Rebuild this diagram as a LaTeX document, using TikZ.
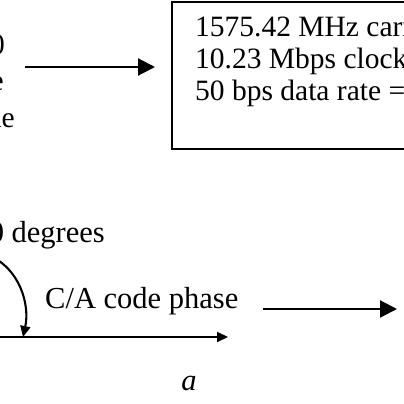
\documentclass[tikz,border=0pt]{standalone}
\usepackage{fontspec}
\setmainfont{Liberation Serif}
\usetikzlibrary{arrows.meta}
\begin{document}
\begin{tikzpicture}[x=1pt,y=-1pt,
  txt/.style={font=\fontsize{29.5}{32}\selectfont, inner sep=0pt},
  txtb/.style={font=\fontsize{30.5}{33}\selectfont, inner sep=0pt},
  bigarrow/.style={line width=2.1pt,-{Triangle[length=17pt,width=17pt]}},
  smallarrow/.style={line width=2.1pt,-{Triangle[length=11pt,width=10pt]}},
  boxstyle/.style={draw, line width=2.2pt, minimum width=300pt, minimum height=147pt, inner sep=0pt}]
\useasboundingbox (0,0) rectangle (404,404);
\clip (0,0) rectangle (404,404);
% left partial texts
\node[txt,anchor=base east] (lt1) at (5,55) {= 0};
\node[txt,anchor=base east] (lt2) at (4,90) {code};
\node[txt,anchor=base east] (lt3) at (15,127) {angle};
% box
\node[boxstyle,anchor=north west] (box) at (171,1) {};
\node[txt,anchor=base west] (b1) at (195,37) {1575.42 MHz carrier};
\node[txt,anchor=base west] (b2) at (195,68) {10.23 Mbps clock};
\node[txt,anchor=base west] (b3) at (195,100) {50 bps data rate =};
% top arrow
\coordinate (t1) at (25,67);
\coordinate (t2) at (155,67);
\draw[bigarrow] (t1) -- (t2);
% bottom part
\node[txtb,anchor=base east] (deg) at (105,242) {90 degrees};
\node[txtb,anchor=base west] (cap) at (45,308) {C/A code phase};
\coordinate (ax0) at (-10,337);
\coordinate (ax1) at (228,337);
\draw[smallarrow] (ax0) -- (ax1);
\coordinate (c0) at (-12,255);
\coordinate (c1) at (23,337);
\draw[smallarrow] (c0) .. controls (20,268) and (30,305) .. (c1);
\coordinate (r0) at (263,309);
\coordinate (r1) at (397,309);
\draw[bigarrow] (r0) -- (r1);
\node[txtb,anchor=base] (lbl) at (189,390) {\textit{a}};
\end{tikzpicture}
\end{document}
